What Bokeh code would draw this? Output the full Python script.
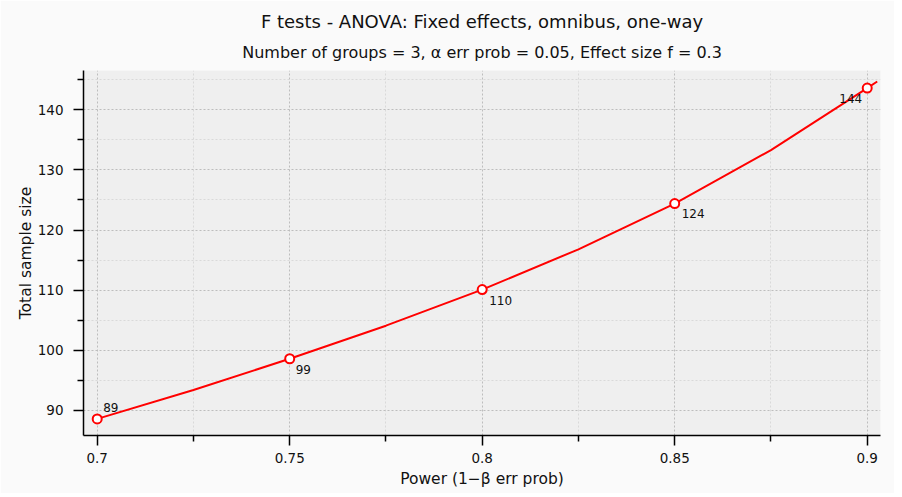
from bokeh.plotting import figure
from bokeh.models import ColumnDataSource, Title, FixedTicker, Range1d
from bokeh.embed import file_html
from bokeh.resources import INLINE
from bokeh.core.properties import value

# ---- data ----
power_pts = [0.70, 0.75, 0.80, 0.85, 0.90]
n_pts = [88.6, 98.6, 110.1, 124.4, 143.6]
n_labels = ["89", "99", "110", "124", "144"]

curve_x = [0.700, 0.725, 0.750, 0.775, 0.800, 0.825, 0.850, 0.875, 0.900, 0.9026]
curve_y = [88.6, 93.4, 98.6, 104.1, 110.1, 116.8, 124.4, 133.3, 143.6, 144.7]

x_major = [0.7, 0.75, 0.8, 0.85, 0.9]
x_minor = [0.725, 0.775, 0.825, 0.875]
x_tick_labels = ["0.7", "0.75", "0.8", "0.85", "0.9"]
y_major = [90, 100, 110, 120, 130, 140]
y_minor = [85, 95, 105, 115, 125, 135, 145]

title_text = "F tests - ANOVA: Fixed effects, omnibus, one-way"
subtitle_text = "Number of groups = 3, \u03b1 err prob = 0.05, Effect size f = 0.3"
x_label = "Power (1\u2212\u03b2 err prob)"
y_label = "Total sample size"

# label placement (screen px offsets)
lab_dx = [6, 6, 7, 7, -5]
lab_dy = [-11, 11, 11, 10, 10]
lab_align = ["left", "left", "left", "left", "right"]

FONT = "DejaVu Sans"

p = figure(width=894, height=493, output_backend="svg", toolbar_location=None,
           x_range=Range1d(0.69644, 0.90345), y_range=Range1d(85.84, 146.53),
           min_border_left=83, min_border_right=14, min_border_top=70, min_border_bottom=58)
p.background_fill_color = "#efefef"
p.border_fill_color = "#fafafa"
p.outline_line_color = None

p.add_layout(Title(text=subtitle_text, align="center", text_font=FONT,
                   text_font_size="16px", text_font_style="normal", text_color="#111111",
                   standoff=18), "above")
p.add_layout(Title(text=title_text, align="center", text_font=FONT,
                   text_font_size="18px", text_font_style="normal", text_color="#111111",
                   standoff=0), "above")

for ax in (p.xaxis[0], p.yaxis[0]):
    ax.axis_line_color = "black"
    ax.axis_line_width = 1.5
    ax.major_tick_line_color = "black"
    ax.major_tick_line_width = 1.5
    ax.minor_tick_line_color = "black"
    ax.minor_tick_line_width = 1.5
    ax.major_tick_in = 0
    ax.major_tick_out = 10
    ax.minor_tick_in = 0
    ax.minor_tick_out = 6
    ax.major_label_text_font = FONT
    ax.major_label_text_font_size = "13.5px"
    ax.major_label_text_color = "#111111"
    ax.axis_label_text_font = FONT
    ax.axis_label_text_font_size = "15.5px"
    ax.axis_label_text_font_style = "normal"
    ax.axis_label_text_color = "#111111"

p.xaxis.ticker = FixedTicker(ticks=x_major, minor_ticks=x_minor)
p.yaxis.ticker = FixedTicker(ticks=y_major, minor_ticks=y_minor)
p.xaxis.major_label_overrides = {t: s for t, s in zip(x_major, x_tick_labels)}
p.xaxis.axis_label = x_label
p.yaxis.axis_label = y_label
p.xaxis.major_label_standoff = 7
p.yaxis.major_label_standoff = 10
p.xaxis.axis_label_standoff = 4
p.yaxis.axis_label_standoff = 0

for g in (p.xgrid[0], p.ygrid[0]):
    g.grid_line_color = "#bdbdbd"
    g.grid_line_dash = "2 2"
    g.grid_line_width = 1
    g.minor_grid_line_color = "#d9d9d9"
    g.minor_grid_line_dash = "2 2"
    g.minor_grid_line_width = 1

p.line(curve_x, curve_y, line_color="#ff0000", line_width=2)
p.scatter(power_pts, n_pts, size=9, marker="circle", fill_color="white",
          line_color="#ff0000", line_width=2)

src = ColumnDataSource(dict(x=power_pts, y=n_pts, t=n_labels, dx=lab_dx, dy=lab_dy, al=lab_align))
p.text(x="x", y="y", text="t", x_offset="dx", y_offset="dy", text_align="al",
       text_baseline="middle", text_font=value(FONT), text_font_size="12px",
       text_color="#111111", source=src)

open("out.html", "w").write(file_html(p, INLINE))
